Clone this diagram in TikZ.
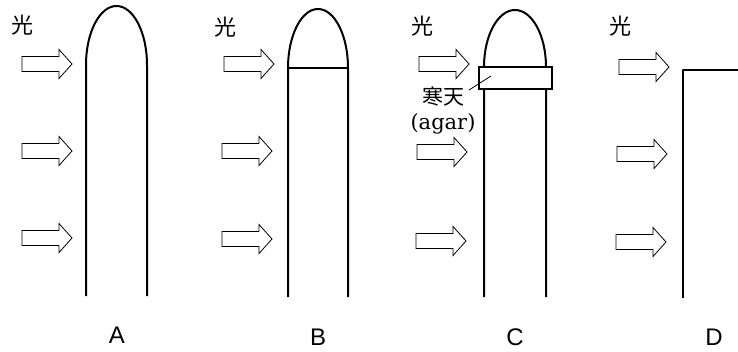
\documentclass[tikz,border=0pt]{standalone}
\usepackage{fontspec}
\newfontfamily\cjk{Noto Sans CJK JP}
\newfontfamily\labelfont{Liberation Sans}
\newfontfamily\agarfont{DejaVu Serif}
\begin{document}
\begin{tikzpicture}[x=1pt,y=1pt,
  tube/.style={line width=2pt, line cap=butt, line join=round},
  arrowline/.style={draw, line width=0.8pt, fill=white, line join=miter},
  lightarr/.pic={\path[arrowline] (0,7.5) -- (37,7.5) -- (37,14.5) -- (50,0)
                   -- (37,-14.5) -- (37,-7.5) -- (0,-7.5) -- cycle;},
  hikari/.style={font=\cjk\fontsize{22}{22}\selectfont, inner sep=0pt},
  panel/.style={font=\labelfont\fontsize{24}{24}\selectfont, inner sep=0pt}]
\useasboundingbox (0,0) rectangle (738,351);

% --- light arrows and labels ---
\node[hikari] (hA) at (23,326) {光};
\node[hikari] (hB) at (225,324) {光};
\node[hikari] (hC) at (422,325) {光};
\node[hikari] (hD) at (620,325) {光};

\pic (aA1) at (22,287) {lightarr};
\pic (aA2) at (22,200) {lightarr};
\pic (aA3) at (22,113) {lightarr};
\pic (aB1) at (224,287) {lightarr};
\pic (aB2) at (222,200) {lightarr};
\pic (aB3) at (222,112) {lightarr};
\pic (aC1) at (419,287) {lightarr};
\pic (aC2) at (417,199) {lightarr};
\pic (aC3) at (416,110) {lightarr};
\pic (aD1) at (619,284) {lightarr};
\pic (aD2) at (617,197) {lightarr};
\pic (aD3) at (616,109) {lightarr};

% --- A: intact coleoptile ---
\draw[tube] (86,55) -- (86,286) arc[start angle=180, end angle=0, x radius=30.5, y radius=59] -- (147,55);

% --- B: tip cut and put back ---
\draw[tube] (288,54) -- (288,283) arc[start angle=180, end angle=0, x radius=30, y radius=59] -- (348,54);
\draw[tube] (288,283) -- (348,283);

% --- C: agar block between tip and stem ---
\draw[tube] (484,54) -- (484,284) arc[start angle=180, end angle=0, x radius=31, y radius=57] -- (546,54);
\node[draw, line width=2pt, fill=white, minimum width=73pt, minimum height=22pt, inner sep=0pt] (agar) at (515.5,273) {};
\coordinate (agarpt) at (491,275);
\node[font=\cjk\fontsize{21}{21}\selectfont, inner sep=0pt] (kanten) at (443,254) {寒天};
\node[font=\agarfont\fontsize{21}{21}\selectfont, inner sep=0pt] (agartxt) at (443,227) {(agar)};
\draw[line width=0.8pt] (469,261) -- (agarpt);

% --- D: tip removed ---
\draw[tube] (683,53) -- (683,281) -- (738,281);

% --- panel letters ---
\node[panel] (lA) at (117,16) {A};
\node[panel] (lB) at (318,14) {B};
\node[panel] (lC) at (515,14) {C};
\node[panel] (lD) at (714,14) {D};
\end{tikzpicture}
\end{document}
